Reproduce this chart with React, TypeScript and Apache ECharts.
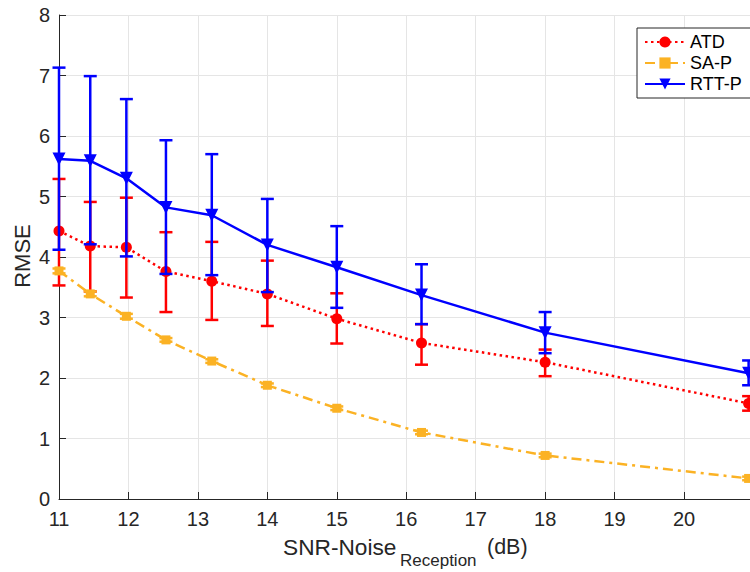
import React, { useEffect, useRef } from "react";
import * as echarts from "echarts";

const xValues = [11, 11.45, 11.97, 12.54, 13.2, 14, 15, 16.22, 18, 20.93];

const atd = [4.43, 4.18, 4.16, 3.76, 3.6, 3.39, 2.98, 2.58, 2.26, 1.58];
const atdLow = [3.53, 3.43, 3.33, 3.09, 2.96, 2.86, 2.57, 2.22, 2.03, 1.46];
const atdHigh = [5.29, 4.91, 4.98, 4.41, 4.25, 3.94, 3.4, 2.89, 2.47, 1.7];

const sap = [3.77, 3.39, 3.02, 2.63, 2.28, 1.88, 1.5, 1.1, 0.72, 0.34];
const sapLow = [3.73, 3.35, 2.98, 2.6, 2.25, 1.85, 1.47, 1.07, 0.69, 0.31];
const sapHigh = [3.81, 3.43, 3.06, 2.66, 2.31, 1.91, 1.53, 1.13, 0.75, 0.37];

const rtt = [5.62, 5.59, 5.3, 4.82, 4.69, 4.2, 3.83, 3.37, 2.75, 2.08];
const rttLow = [4.12, 4.21, 4.01, 3.72, 3.7, 3.42, 3.16, 2.89, 2.41, 1.88];
const rttHigh = [7.13, 6.99, 6.61, 5.93, 5.7, 4.96, 4.51, 3.88, 3.09, 2.29];

const seriesNames = ["ATD", "SA-P", "RTT-P"];

const RED = "#ff0000";
const ORANGE = "#fbb224";
const BLUE = "#0000ff";
const AXIS = "#262626";
const FONT = "Liberation Sans, Arial, Helvetica, sans-serif";

function errSeries(name: string, lows: number[], highs: number[], color: string, z: number) {
  return {
    type: "custom",
    name: name + "-err",
    z,
    silent: true,
    clip: false,
    data: xValues.map((x, i) => [x, lows[i], highs[i]]),
    encode: { x: 0, y: [1, 2] },
    renderItem: (params: any, api: any) => {
      const x = api.value(0);
      const lo = api.coord([x, api.value(1)]);
      const hi = api.coord([x, api.value(2)]);
      const hw = 6.5;
      const style = { stroke: color, lineWidth: 2.5, fill: null };
      return {
        type: "group",
        children: [
          { type: "line", shape: { x1: lo[0], y1: lo[1], x2: hi[0], y2: hi[1] }, style },
          { type: "line", shape: { x1: lo[0] - hw, y1: lo[1], x2: lo[0] + hw, y2: lo[1] }, style },
          { type: "line", shape: { x1: hi[0] - hw, y1: hi[1], x2: hi[0] + hw, y2: hi[1] }, style },
        ],
      };
    },
  };
}

function lineSeries(name: string, vals: number[], color: string, type: any, symbol: string, size: number, rotate: number, z: number) {
  return {
    type: "line",
    name,
    z,
    data: xValues.map((x, i) => [x, vals[i]]),
    symbol,
    symbolSize: size,
    symbolRotate: rotate,
    showAllSymbol: true,
    clip: false,
    lineStyle: { color, width: 2.5, type, cap: "butt" },
    itemStyle: { color, borderWidth: 0 },
  };
}

export default function App() {
  const ref = useRef<HTMLDivElement>(null);
  useEffect(() => {
    if (!ref.current) return;
    const chart = echarts.init(ref.current, null, { renderer: "svg" });
    const option: any = {
      animation: false,
      backgroundColor: "#ffffff",
      textStyle: { fontFamily: FONT },
      grid: { left: 59, right: 0, top: 15, bottom: 73, containLabel: false },
      xAxis: {
        type: "value",
        min: 11,
        max: 20.95,
        interval: 1,
        axisLine: { show: true, lineStyle: { color: AXIS, width: 1 } },
        axisTick: { show: true, inside: true, length: 7, lineStyle: { color: AXIS } },
        axisLabel: {
          color: AXIS,
          fontSize: 20,
          fontFamily: FONT,
          margin: 10,
          showMaxLabel: false,
          formatter: (v: number) => (Number.isInteger(v) ? String(v) : ""),
        },
        splitLine: { show: true, lineStyle: { color: "#e5e5e5", width: 1 } },
      },
      yAxis: {
        type: "value",
        min: 0,
        max: 8,
        interval: 1,
        axisLine: { show: true, lineStyle: { color: AXIS, width: 1 } },
        axisTick: { show: true, inside: true, length: 7, lineStyle: { color: AXIS } },
        axisLabel: { color: AXIS, fontSize: 20, fontFamily: FONT, margin: 9 },
        splitLine: { show: true, lineStyle: { color: "#e5e5e5", width: 1 } },
      },
      legend: {
        data: seriesNames,
        orient: "vertical",
        left: 637,
        top: 28,
        itemWidth: 40,
        itemHeight: 14,
        itemGap: 3,
        padding: [5, 40, 5, 7],
        backgroundColor: "#ffffff",
        borderColor: AXIS,
        borderWidth: 1,
        borderRadius: 0,
        textStyle: { color: "#000000", fontSize: 18, fontFamily: FONT },
      },
      graphic: [
        {
          type: "text",
          x: 22,
          y: 256,
          rotation: Math.PI / 2,
          style: { text: "RMSE", fontSize: 22, fontFamily: FONT, fill: AXIS, textAlign: "center", textVerticalAlign: "middle" },
        },
        {
          type: "text",
          x: 283,
          y: 547,
          style: { text: "SNR-Noise", fontSize: 22.7, fontFamily: FONT, fill: AXIS, textAlign: "left", textVerticalAlign: "middle" },
        },
        {
          type: "text",
          x: 400,
          y: 560,
          style: { text: "Reception", fontSize: 17, fontFamily: FONT, fill: AXIS, textAlign: "left", textVerticalAlign: "middle" },
        },
        {
          type: "text",
          x: 487,
          y: 547,
          style: { text: "(dB)", fontSize: 21.5, fontFamily: FONT, fill: AXIS, textAlign: "left", textVerticalAlign: "middle" },
        },
      ],
      series: [
        errSeries("ATD", atdLow, atdHigh, RED, 2),
        lineSeries("ATD", atd, RED, [2.5, 3.5], "circle", 11, 0, 3),
        errSeries("SA-P", sapLow, sapHigh, ORANGE, 4),
        lineSeries("SA-P", sap, ORANGE, [10, 5, 3, 5], "rect", 9, 0, 5),
        errSeries("RTT-P", rttLow, rttHigh, BLUE, 6),
        lineSeries("RTT-P", rtt, BLUE, "solid", "triangle", 13, 180, 7),
      ],
    };
    chart.setOption(option);
    return () => chart.dispose();
  }, []);
  return <div ref={ref} style={{ position: "absolute", left: 0, top: 0, width: 750, height: 572 }} />;
}
